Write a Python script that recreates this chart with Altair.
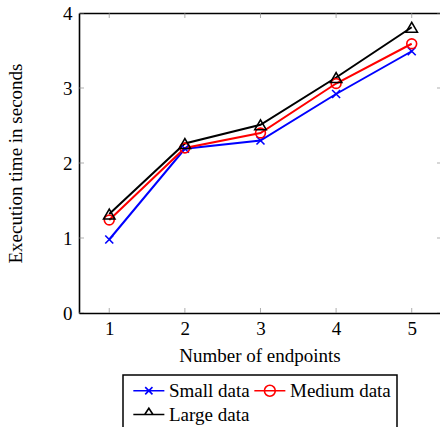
import altair as alt
import pandas as pd

# ---- data ----
endpoints = [1, 2, 3, 4, 5]
small = [0.98, 2.19, 2.30, 2.92, 3.49]
medium = [1.24, 2.20, 2.40, 3.06, 3.59]
large = [1.32, 2.26, 2.51, 3.14, 3.81]
series_names = ["Small data", "Medium data", "Large data"]
colors = ["#0000ff", "#ff0000", "#000000"]
x_ticks = [1, 2, 3, 4, 5]
y_ticks = [0, 1, 2, 3, 4]
x_limits = [0.6, 5.4]
y_limits = [0, 4]

FONT = "Liberation Serif"
TICK_GREY = "#8c8c8c"

rows = []
for name, vals in zip(series_names, [small, medium, large]):
    for e, v in zip(endpoints, vals):
        rows.append({"endpoints": e, "time": v, "series": name})
df = pd.DataFrame(rows)

x_scale = alt.Scale(domain=[x_limits[0], 5.374], nice=False, zero=False)
y_scale = alt.Scale(domain=y_limits, nice=False, zero=False)
color_scale = alt.Scale(domain=series_names, range=colors)

marker_shapes = ["M-1,-1L1,1M-1,1L1,-1", "circle", "triangle-up"]
marker_sizes = [64, 130, 110]
legend_shapes = [
    "M-1,0L5,0M1.3,-0.7L2.7,0.7M1.3,0.7L2.7,-0.7",
    "M-1,0L5,0M3.05,0A1.05,1.05 0 1,1 0.95,0A1.05,1.05 0 1,1 3.05,0",
    "M-1,0L5,0M1.2,0L2.8,0L2,-1.2Z",
]

lines = alt.Chart(df).mark_line(strokeWidth=2, clip=True).encode(
    x=alt.X("endpoints:Q", scale=x_scale,
            axis=alt.Axis(values=x_ticks, title="Number of endpoints", format="d",
                          ticks=False, tickSize=0, grid=False, domain=True,
                          domainColor="black", domainWidth=1.6, labelPadding=6,
                          titlePadding=8)),
    y=alt.Y("time:Q", scale=y_scale,
            axis=alt.Axis(values=y_ticks, title="Execution time in seconds", format="d",
                          ticks=False, tickSize=0, grid=False, domain=True,
                          domainColor="black", domainWidth=1.6, labelPadding=7,
                          titlePadding=37)),
    color=alt.Color("series:N", scale=color_scale, legend=None),
)

points = alt.Chart(df).mark_point(filled=False, strokeWidth=1.6, opacity=1).encode(
    x=alt.X("endpoints:Q", scale=x_scale, axis=None),
    y=alt.Y("time:Q", scale=y_scale, axis=None),
    color=alt.Color("series:N", scale=color_scale, legend=None),
    shape=alt.Shape("series:N", scale=alt.Scale(domain=series_names, range=marker_shapes), legend=None),
    size=alt.Size("series:N", scale=alt.Scale(domain=series_names, range=marker_sizes), legend=None),
)

leg = alt.Legend(
    title=None, orient="none", legendX=44, legendY=362, columns=2, direction="horizontal",
    strokeColor="black", padding=6, symbolSize=107, symbolStrokeWidth=1.6,
    labelOffset=21, labelFont=FONT, labelFontSize=19, labelColor="black",
    columnPadding=0, rowPadding=4, labelLimit=0,
)

legend_layer = alt.Chart(df).transform_filter("false").mark_point(
    filled=False, strokeWidth=1.6, opacity=1
).encode(
    x=alt.X("endpoints:Q", scale=x_scale, axis=None),
    y=alt.Y("time:Q", scale=y_scale, axis=None),
    color=alt.Color("series:N", scale=color_scale, legend=leg),
    shape=alt.Shape("series:N", scale=alt.Scale(domain=series_names, range=legend_shapes), legend=leg),
)

# inward tick marks (clipped to the plot area)
xt_bottom = pd.DataFrame({"x": x_ticks, "y": [y_limits[0]] * len(x_ticks)})
xt_top = pd.DataFrame({"x": x_ticks, "y": [y_limits[1]] * len(x_ticks)})
yt_left = pd.DataFrame({"x": [x_limits[0]] * len(y_ticks), "y": y_ticks})
yt_right = pd.DataFrame({"x": [x_limits[1]] * len(y_ticks), "y": y_ticks})

tick_v = dict(orient="vertical", size=10, thickness=1, color=TICK_GREY, clip=True)
tick_h = dict(orient="horizontal", size=10, thickness=1, color=TICK_GREY, clip=True)

ticks_bottom = alt.Chart(xt_bottom).mark_tick(**tick_v).encode(
    x=alt.X("x:Q", scale=x_scale, axis=None), y=alt.Y("y:Q", scale=y_scale, axis=None))
ticks_top = alt.Chart(xt_top).mark_tick(**tick_v).encode(
    x=alt.X("x:Q", scale=x_scale,
            axis=alt.Axis(orient="top", labels=False, ticks=False, tickSize=0, grid=False,
                          domain=True, domainColor="black", domainWidth=1.6, title="")),
    y=alt.Y("y:Q", scale=y_scale, axis=None))
ticks_left = alt.Chart(yt_left).mark_tick(**tick_h).encode(
    x=alt.X("x:Q", scale=x_scale, axis=None), y=alt.Y("y:Q", scale=y_scale, axis=None))
ticks_right = alt.Chart(yt_right).mark_tick(**tick_h).encode(
    x=alt.X("x:Q", scale=x_scale, axis=None), y=alt.Y("y:Q", scale=y_scale, axis=None))

chart = alt.layer(
    ticks_bottom, ticks_top, ticks_left, ticks_right, lines, points, legend_layer
).resolve_scale(
    color="independent", shape="independent", size="independent"
).resolve_axis(
    x="independent", y="independent"
).properties(
    width=361, height=300,
    autosize=alt.AutoSizeParams(type="none"),
    padding={"left": 79, "top": 13, "right": 0, "bottom": 114},
).configure_view(
    stroke="transparent"
).configure_axis(
    labelFont=FONT, labelFontSize=19, labelColor="black",
    titleFont=FONT, titleFontSize=19, titleFontWeight="normal", titleColor="black",
).configure_legend(
    strokeWidth=1.5
)

chart.save("out.html", embed_options={"renderer": "svg", "actions": False})
